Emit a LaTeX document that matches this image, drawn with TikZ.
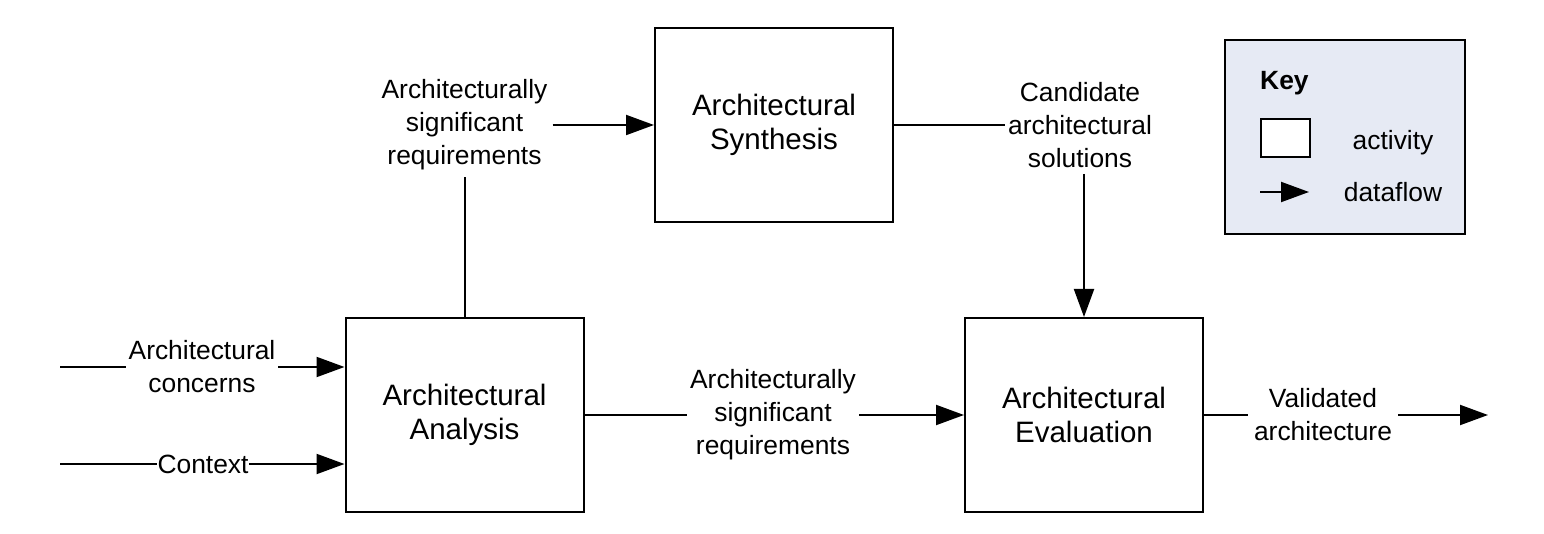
\documentclass[tikz,border=0pt]{standalone}
\usepackage{fontspec}
\setmainfont{Liberation Sans}
\usetikzlibrary{arrows.meta}
\definecolor{keyfill}{RGB}{230,234,244}
\begin{document}
\begin{tikzpicture}[x=1pt,y=-1pt,
  activity/.style={draw,line width=2pt,minimum width=238pt,minimum height=194pt,inner sep=0pt,align=center,font=\fontsize{29.5}{33.5}\selectfont},
  lbl/.style={inner sep=3pt,align=center,fill=white,font=\fontsize{26.4}{33}\selectfont},
  flow/.style={line width=2pt,-{Triangle[length=28pt,width=20pt]}},
  plain/.style={line width=2pt}]
\useasboundingbox (0,0) rectangle (1544,534);
% activities
\node[activity] (ana) at (464.5,415) {Architectural\\Analysis};
\node[activity] (syn) at (774,125) {Architectural\\Synthesis};
\node[activity] (eva) at (1084,415) {Architectural\\Evaluation};
% inputs
\coordinate (in1) at (60,367);
\coordinate (in2) at (60,464);
\draw[flow] (in1) -- (ana.west |- in1);
\draw[flow] (in2) -- (ana.west |- in2);
\node[lbl] (conc) at (202,367) {Architectural\\concerns};
\node[lbl,inner sep=1pt] (ctx) at (203,464) {Context};
% upper ASR
\node[lbl] (asr1) at (464.5,125) {Architecturally\\significant\\requirements};
\draw[plain] (ana.north) -- ([yshift=-3pt]asr1.south);
\draw[flow] ([xshift=2pt]asr1.east) -- (syn.west);
% candidate
\node[lbl] (cand) at (1080,125) {Candidate\\architectural\\solutions};
\draw[plain] (syn.east) -- (cand.west);
\draw[flow] ([yshift=-3pt]cand.south -| eva.north) -- (eva.north);
% middle ASR
\node[lbl] (asr2) at (773,415) {Architecturally\\significant\\requirements};
\draw[plain] (ana.east) -- (asr2.west);
\draw[flow] (asr2.east) -- (eva.west);
% output
\node[lbl,inner sep=6pt] (val) at (1323,415) {Validated\\architecture};
\coordinate (out) at (1488,415);
\draw[plain] (eva.east) -- (val.west);
\draw[flow] (val.east) -- (out);
% key
\node[draw,line width=2pt,fill=keyfill,minimum width=240pt,minimum height=194pt,inner sep=0pt] (key) at (1345,137) {};
\node[anchor=west,inner sep=0pt,font=\fontsize{26.4}{33}\selectfont\bfseries] (keyt) at (1260,83) {Key};
\node[draw,line width=2pt,fill=white,minimum width=49pt,minimum height=38pt,inner sep=0pt] (keybox) at (1285.5,138.5) {};
\node[inner sep=0pt,font=\fontsize{26.4}{33}\selectfont] (keyact) at (1393,143) {activity};
\coordinate (ka1) at (1260,192);
\coordinate (ka2) at (1309,192);
\draw[flow] (ka1) -- (ka2);
\node[inner sep=0pt,font=\fontsize{26.4}{33}\selectfont] (keydf) at (1393,192) {dataflow};
\end{tikzpicture}
\end{document}
